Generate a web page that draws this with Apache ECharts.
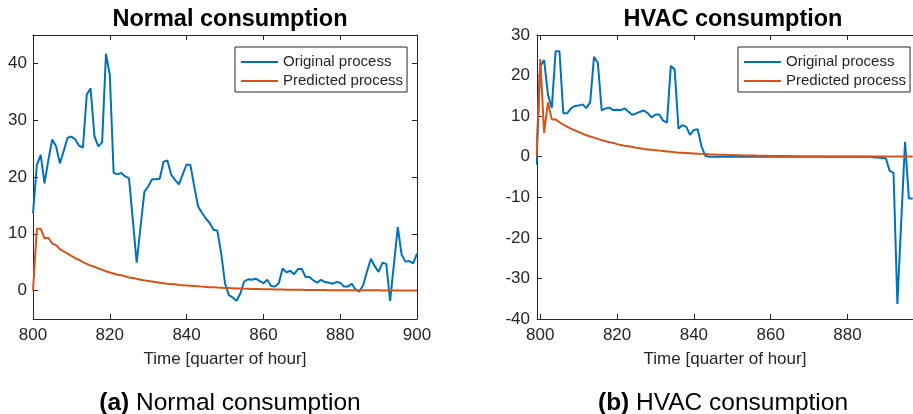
<!DOCTYPE html>
<html>
<head>
<meta charset="utf-8">
<script src="https://cdn.jsdelivr.net/npm/echarts@6/dist/echarts.min.js"></script>
<style>
  html, body { margin: 0; padding: 0; background: #ffffff; }
  #chart { width: 913px; height: 414px; }
</style>
</head>
<body>
<div id="chart"></div>
<script>
// ---- Normal consumption (quarter-hours 800..900) ----
const normalStart = 800;
const normalOriginal = [
  13.6, 22.1, 23.9, 18.9, 23.0, 26.6, 25.4, 22.4, 24.6, 26.9,
  27.1, 26.6, 25.5, 25.2, 34.5, 35.6, 27.2, 25.4, 26.1, 41.7,
  38.0, 20.7, 20.5, 20.7, 20.1, 19.8, 12.4, 4.9, 11.2, 17.4,
  18.3, 19.6, 19.6, 19.7, 22.7, 22.9, 20.4, 19.5, 18.7, 20.5,
  22.2, 22.1, 18.3, 14.8, 13.7, 12.7, 11.9, 10.7, 10.6, 6.6,
  1.3, -0.8, -1.2, -1.8, -0.5, 1.6, 2.0, 1.9, 2.1, 1.7,
  1.3, 1.9, 0.8, 0.7, 1.3, 3.9, 3.2, 3.5, 2.9, 3.8,
  3.8, 2.4, 2.4, 1.8, 1.4, 1.9, 1.5, 1.4, 1.2, 1.5,
  1.4, 0.7, 0.7, 1.2, 0.2, -0.2, 1.0, 3.4, 5.6, 4.3,
  3.3, 4.9, 4.7, -1.8, 4.7, 11.2, 6.3, 5.1, 5.2, 4.8,
  6.5
];
const normalPredicted = [
  0, 10.9, 10.9, 9.2, 9.3, 8.3, 8.0, 7.3, 6.9, 6.5,
  6.1, 5.7, 5.4, 5.0, 4.7, 4.4, 4.2, 3.9, 3.7, 3.4,
  3.2, 3.0, 2.8, 2.7, 2.5, 2.3, 2.2, 2.1, 1.9, 1.8,
  1.7, 1.6, 1.5, 1.4, 1.3, 1.2, 1.15, 1.1, 1.0, 0.95,
  0.9, 0.85, 0.8, 0.75, 0.7, 0.65, 0.6, 0.57, 0.53, 0.5,
  0.47, 0.44, 0.41, 0.38, 0.36, 0.34, 0.32, 0.3, 0.28, 0.26,
  0.24, 0.23, 0.22, 0.2, 0.19, 0.18, 0.17, 0.16, 0.15, 0.14,
  0.13, 0.12, 0.11, 0.11, 0.1, 0.09, 0.09, 0.08, 0.08, 0.07,
  0.07, 0.06, 0.06, 0.06, 0.05, 0.05, 0.05, 0.04, 0.04, 0.04,
  0.04, 0.03, 0.03, 0.03, 0.03, 0.03, 0.03, 0.03, 0.03, 0.03,
  0.03
];
const normalYTicks = [0, 10, 20, 30, 40];

// ---- HVAC consumption (quarter-hours 799..897) ----
const hvacStart = 799;
const hvacOriginal = [
  -2.0,
  22.3, 23.8, 15.3, 12.0, 26.0, 26.0, 10.7, 10.7, 11.9, 12.5,
  12.6, 12.9, 12.0, 13.4, 24.6, 23.1, 11.4, 11.9, 12.1, 11.5,
  11.6, 11.5, 11.9, 11.1, 10.3, 10.7, 11.1, 11.4, 10.7, 9.7,
  10.4, 10.4, 8.9, 8.4, 22.4, 21.5, 6.9, 7.8, 7.4, 5.4,
  6.6, 6.8, 2.5, 0.2, 0, 0, 0, 0, 0, 0,
  0, 0, 0, 0, 0, 0, 0, 0, 0, 0,
  0, 0, 0, 0, 0, 0, 0, 0, 0, 0,
  0, 0, 0, 0, 0, 0, 0, 0, 0, 0,
  0, 0, 0, 0, 0, 0, 0, -0.2, -0.2, -0.3,
  -0.4, -3.5, -4.0, -36.3, -16.0, 3.7, -10.3, -10.3
];
const hvacPredicted = [
  0,
  24.1, 5.9, 13.4, 9.2, 9.2, 8.5, 7.9, 7.4, 6.9, 6.5,
  6.1, 5.7, 5.3, 5.0, 4.7, 4.4, 4.1, 3.8, 3.6, 3.4,
  3.1, 2.9, 2.7, 2.6, 2.4, 2.2, 2.1, 1.9, 1.8, 1.7,
  1.6, 1.5, 1.4, 1.3, 1.2, 1.1, 1.0, 0.95, 0.9, 0.85,
  0.8, 0.75, 0.7, 0.65, 0.6, 0.56, 0.52, 0.49, 0.46, 0.43,
  0.4, 0.37, 0.35, 0.33, 0.31, 0.29, 0.27, 0.25, 0.23, 0.22,
  0.2, 0.19, 0.18, 0.17, 0.16, 0.15, 0.14, 0.13, 0.12, 0.11,
  0.1, 0.1, 0.09, 0.09, 0.08, 0.08, 0.07, 0.07, 0.06, 0.06,
  0.06, 0.05, 0.05, 0.05, 0.05, 0.04, 0.04, 0.04, 0.04, 0.04,
  0.03, 0.03, 0.03, 0.03, 0.03, 0.03, 0.03, 0.03
];
const hvacXTicks = [800, 820, 840, 860, 880];

const seriesNames = ['Original process', 'Predicted process'];
const captions = ['Normal consumption', 'HVAC consumption'];
const xAxisTitle = 'Time [quarter of hour]';

// ---- styling ----
const FONT = '"Liberation Sans", Arial, Helvetica, sans-serif';
const INK = '#262626';
const BLUE = '#0072BD';
const ORANGE = '#D95319';

function pairs(start, values) {
  return values.map((v, i) => [start + i, v]);
}

function frameAxis(opts) {
  const a = {
    type: 'value',
    gridIndex: opts.grid,
    position: opts.position,
    min: opts.min,
    max: opts.max,
    scale: true,
    axisLine: { show: !opts.hidden, onZero: false, lineStyle: { color: INK, width: 1 } },
    axisTick: { show: !opts.hidden, inside: true, length: 5, lineStyle: { color: INK, width: 1 } },
    axisLabel: {
      show: !!opts.labels,
      color: INK, fontSize: 17, fontFamily: FONT,
      margin: opts.margin || 8
    },
    splitLine: { show: false }
  };
  if (opts.interval != null) a.interval = opts.interval;
  if (opts.ticks) {
    a.axisTick.customValues = opts.ticks;
    a.axisLabel.customValues = opts.ticks;
  }
  if (opts.name) {
    a.name = opts.name;
    a.nameLocation = 'middle';
    a.nameGap = 32;
    a.nameTextStyle = { color: INK, fontSize: 17, fontFamily: FONT };
  }
  return a;
}

function lineSeries(name, data, xi, yi, color, z) {
  return {
    type: 'line', name: name, data: data,
    xAxisIndex: xi, yAxisIndex: yi,
    symbol: 'none', showSymbol: false, clip: true,
    lineStyle: { color: color, width: 2 },
    itemStyle: { color: color },
    z: z, animation: false
  };
}

function legendAt(left) {
  return {
    data: seriesNames,
    orient: 'vertical',
    left: left, top: 47,
    icon: 'rect', itemWidth: 37, itemHeight: 2,
    itemGap: 3,
    padding: [7, 4, 3, 6],
    backgroundColor: '#ffffff',
    borderColor: INK, borderWidth: 1, borderRadius: 0,
    textStyle: { color: INK, fontSize: 15, fontFamily: FONT, lineHeight: 16 },
    selectedMode: false
  };
}

function caption(tag, text, x) {
  return {
    text: '{b|' + tag + '} ' + text, left: x, top: 386, textAlign: 'center',
    textStyle: {
      color: '#000', fontSize: 24.5, fontWeight: 'normal', fontFamily: FONT,
      rich: { b: { fontWeight: 'bold', fontSize: 24.5, fontFamily: FONT, color: '#000' } }
    }
  };
}

function heading(text, x) {
  return {
    text: text, left: x, top: 3, textAlign: 'center',
    textStyle: { color: '#000', fontSize: 23.5, fontWeight: 'bold', fontFamily: FONT }
  };
}

const chart = echarts.init(document.getElementById('chart'), null, { renderer: 'canvas' });

chart.setOption({
  animation: false,
  backgroundColor: '#ffffff',
  title: [
    heading(captions[0], 225),
    heading(captions[1], 728),
    caption('(a)', captions[0], 225),
    caption('(b)', captions[1], 718)
  ],
  legend: [legendAt(235), legendAt(738)],
  grid: [
    { left: 33, top: 35, width: 384, height: 284, containLabel: false },
    { left: 537, top: 35, right: 0, height: 284, containLabel: false }
  ],
  xAxis: [
    frameAxis({ grid: 0, position: 'bottom', min: 800, max: 900, interval: 20, labels: true, margin: 8, name: xAxisTitle }),
    frameAxis({ grid: 0, position: 'top', min: 800, max: 900, interval: 20 }),
    frameAxis({ grid: 1, position: 'bottom', min: 799.15, max: 897.07, ticks: hvacXTicks, labels: true, margin: 8, name: xAxisTitle }),
    frameAxis({ grid: 1, position: 'top', min: 799.15, max: 897.07, ticks: hvacXTicks })
  ],
  yAxis: [
    frameAxis({ grid: 0, position: 'left', min: -5, max: 45, ticks: normalYTicks, labels: true, margin: 6 }),
    frameAxis({ grid: 0, position: 'right', min: -5, max: 45, ticks: normalYTicks }),
    frameAxis({ grid: 1, position: 'left', min: -40, max: 30, interval: 10, labels: true, margin: 7 }),
    frameAxis({ grid: 1, position: 'right', min: -40, max: 30, interval: 10, hidden: true })
  ],
  series: [
    lineSeries(seriesNames[0], pairs(normalStart, normalOriginal), 0, 0, BLUE, 2),
    lineSeries(seriesNames[1], pairs(normalStart, normalPredicted), 0, 0, ORANGE, 3),
    lineSeries(seriesNames[0], pairs(hvacStart, hvacOriginal), 2, 2, BLUE, 2),
    lineSeries(seriesNames[1], pairs(hvacStart, hvacPredicted), 2, 2, ORANGE, 3)
  ]
});
</script>
</body>
</html>
